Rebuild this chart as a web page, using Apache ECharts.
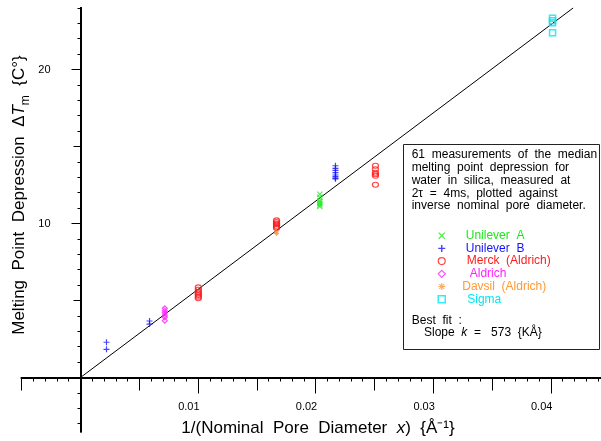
<!DOCTYPE html>
<html>
<head>
<meta charset="utf-8">
<script src="https://cdn.jsdelivr.net/npm/echarts@6/dist/echarts.min.js"></script>
<style>
  html, body { margin: 0; padding: 0; background: #fff; }
  #chart { width: 601px; height: 441px; }
</style>
</head>
<body>
<div id="chart"></div>
<script>
// 熔点降低 vs 孔径倒数

// 数据 [1/x (Å^-1), ΔTm (C°)]
const unileverA = [[0.02035, 11.9], [0.02035, 11.7], [0.02035, 11.5], [0.02035, 11.4],
    [0.02035, 11.3], [0.02035, 11.2], [0.02035, 11.1]];
const unileverB = [[0.00221, 2.29], [0.00221, 1.83], [0.00587, 3.67], [0.00587, 3.47],
    [0.02168, 13.75], [0.02168, 13.58], [0.02168, 13.45], [0.02168, 13.3],
    [0.02168, 13.15], [0.02168, 13.05], [0.02168, 12.95], [0.02168, 12.9]];
const merck = [[0.01002, 5.85], [0.01002, 5.7], [0.01002, 5.55], [0.01002, 5.45],
    [0.01002, 5.35], [0.01002, 5.25], [0.01002, 5.15],
    [0.01667, 10.2], [0.01667, 10.1], [0.01667, 10.0], [0.01667, 9.95], [0.01667, 9.85],
    [0.01667, 9.75], [0.01667, 9.7],
    [0.02508, 13.75], [0.02508, 13.52], [0.02508, 13.3], [0.02508, 13.2],
    [0.02508, 13.1], [0.02508, 12.52]];
const aldrich = [[0.00717, 4.49], [0.00717, 4.34], [0.00717, 4.2], [0.00717, 4.05],
    [0.00717, 3.91], [0.00717, 3.69]];
const davsil = [[0.01667, 9.45], [0.01667, 9.35]];
const sigma = [[0.04014, 23.32], [0.04014, 23.17], [0.04014, 23.04], [0.04014, 22.39]];

// 最佳拟合 斜率 k = 573 KÅ
const fitLine = [[0, 0], [0.0419, 24.0]];

// 坐标轴刻度
const xLabelValues = [0.01, 0.02, 0.03, 0.04];
const xLabelTexts = ['0.01', '0.02', '0.03', '0.04'];
const xMajorTicks = [0.01, 0.02, 0.03, 0.04];
const xMidTicks = [-0.005, 0.005, 0.015, 0.025, 0.035];
const yLabelValues = [10, 20];
const yLabelTexts = ['10', '20'];
const yMajorTicks = [10, 20];
const yMidTicks = [5, 15];

const xMinorTicks = [];
for (let i = -5; i <= 45; i++) xMinorTicks.push(+(i * 0.001).toFixed(3));
const yMinorTicks = [];
for (let i = -3; i <= 24; i++) yMinorTicks.push(i);

const FONT = 'Liberation Sans';
const X_MIN = -0.005, X_MAX = 0.045, Y_MIN = -3.5, Y_MAX = 24;

function xTickAxis(ticks, len) {
    return {
        type: 'value', min: X_MIN, max: X_MAX, position: 'bottom',
        axisLine: { show: true, onZero: true, onZeroAxisIndex: 0, lineStyle: { color: '#000', width: 2 } },
        axisTick: { show: true, customValues: ticks, length: len, lineStyle: { color: '#000', width: 1 } },
        axisLabel: { show: false },
        splitLine: { show: false }
    };
}

function yTickAxis(ticks, len) {
    return {
        type: 'value', min: Y_MIN, max: Y_MAX, position: 'left',
        axisLine: { show: true, onZero: true, onZeroAxisIndex: 0, lineStyle: { color: '#000', width: 2 } },
        axisTick: { show: true, customValues: ticks, length: len, lineStyle: { color: '#000', width: 1 } },
        axisLabel: { show: false },
        splitLine: { show: false }
    };
}

const plusPath = 'path://M4,0H6V4H10V6H6V10H4V6H0V4H4Z';
const crossPath = 'path://M0,1.2L1.2,0L5,3.8L8.8,0L10,1.2L6.2,5L10,8.8L8.8,10L5,6.2L1.2,10L0,8.8L3.8,5Z';
const starPath = 'path://M4.2,0H5.8V10H4.2Z M0,4.2H10V5.8H0Z M1,2.1L2.1,1L9,7.9L7.9,9Z M7.9,1L9,2.1L2.1,9L1,7.9Z';

const cGreen = '#1ee61e', cBlue = '#1414ff', cRed = '#ff1a1a',
    cMagenta = '#ff22ff', cOrange = '#ff9933', cCyan = '#00e6f0';

function hollow(color, w) {
    return { color: 'rgba(255,255,255,0)', borderColor: color, borderWidth: w || 1.2 };
}

function txt(x, y, text, extra) {
    return { type: 'text', x: x, y: y, style: Object.assign({ text: text, font: '12px "Liberation Sans"', fill: '#000', verticalAlign: 'middle' }, extra || {}) };
}

const myChart = echarts.init(document.getElementById('chart'));

const staticGraphics = [
    // 坐标轴标题
    {
        type: 'text', x: 19, y: 195, rotation: Math.PI / 2,
        style: {
            text: 'Melting  Point  Depression  Δ{i|T}{s|m}  {C°}',
            font: '17px "Liberation Sans"', fill: '#000', align: 'center', verticalAlign: 'middle',
            rich: {
                i: { fontFamily: FONT, fontSize: 17, fontStyle: 'italic', fill: '#000' },
                s: { fontFamily: FONT, fontSize: 12, fill: '#000', verticalAlign: 'bottom', lineHeight: 26 }
            }
        }
    },
    {
        type: 'text', x: 318, y: 428,
        style: {
            text: '1/(Nominal  Pore  Diameter  {i|x})  {Å⁻¹}',
            font: '17px "Liberation Sans"', fill: '#000', align: 'center', verticalAlign: 'middle',
            rich: { i: { fontFamily: FONT, fontSize: 17, fontStyle: 'italic', fill: '#000' } }
        }
    },
    // 说明框
    {
        type: 'rect', shape: { x: 403.5, y: 144.5, width: 196, height: 205 },
        style: { fill: '#fff', stroke: '#222', lineWidth: 1 }, z: -1
    },
    txt(411.7, 155, '61  measurements  of  the  median'),
    txt(411.7, 167.7, 'melting  point  depression  for'),
    txt(411.7, 180.5, 'water  in  silica,  measured  at'),
    txt(411.7, 193.2, '2τ  =  4ms,  plotted  against'),
    txt(411.7, 205.8, 'inverse  nominal  pore  diameter.'),
    txt(411.7, 320.3, 'Best  fit  :'),
    txt(424, 332.7, 'Slope  {i|k}  =   573  {KÅ}', {
        rich: { i: { fontFamily: FONT, fontSize: 12, fontStyle: 'italic', fill: '#000' } }
    })
];

const option = {
    animation: false,
    backgroundColor: '#fff',
    grid: { left: 21.7, top: 7.9, width: 588, height: 423.5, outerBoundsMode: 'none', containLabel: false },
    xAxis: [
        xTickAxis(xMajorTicks, 16),
        xTickAxis(xMidTicks, 13),
        xTickAxis(xMinorTicks, 4)
    ],
    yAxis: [
        yTickAxis(yMajorTicks, 9),
        yTickAxis(yMidTicks, 7),
        yTickAxis(yMinorTicks, 3)
    ],
    legend: {
        orient: 'vertical', left: 432.5, top: 224.7,
        itemWidth: 7, itemHeight: 7, itemGap: 0.7,
        selectedMode: false,
        textStyle: { fontFamily: FONT, fontSize: 12 },
        data: [
            { name: 'Unilever  A', icon: crossPath, itemStyle: { color: cGreen, borderWidth: 0 },
              textStyle: { color: cGreen, padding: [0, 0, 0, 15.5] } },
            { name: 'Unilever  B', icon: plusPath, itemStyle: { color: cBlue, borderWidth: 0 },
              textStyle: { color: cBlue, padding: [0, 0, 0, 15.5] } },
            { name: 'Merck  (Aldrich)', icon: 'circle', itemStyle: hollow(cRed),
              textStyle: { color: cRed, padding: [0, 0, 0, 16.5] } },
            { name: 'Aldrich', icon: 'diamond', itemStyle: hollow(cMagenta),
              textStyle: { color: cMagenta, padding: [0, 0, 0, 19.5] } },
            { name: 'Davsil  (Aldrich)', icon: starPath, itemStyle: { color: cOrange, borderWidth: 0 },
              textStyle: { color: cOrange, padding: [0, 0, 0, 12] } },
            { name: 'Sigma', icon: 'rect', itemStyle: hollow(cCyan, 1.5),
              textStyle: { color: cCyan, padding: [0, 0, 0, 17] } }
        ]
    },
    series: [
        {
            name: 'fit', type: 'line', data: fitLine, showSymbol: false, clip: true,
            lineStyle: { color: '#000', width: 1 }, z: 1, silent: true
        },
        { name: 'Unilever  A', type: 'scatter', data: unileverA, symbol: crossPath, symbolSize: 6,
          itemStyle: { color: cGreen } },
        { name: 'Unilever  B', type: 'scatter', data: unileverB, symbol: plusPath, symbolSize: 6,
          itemStyle: { color: cBlue } },
        { name: 'Merck  (Aldrich)', type: 'scatter', data: merck, symbol: 'circle', symbolSize: [6, 5],
          itemStyle: hollow(cRed) },
        { name: 'Aldrich', type: 'scatter', data: aldrich, symbol: 'diamond', symbolSize: 5,
          itemStyle: hollow(cMagenta) },
        { name: 'Davsil  (Aldrich)', type: 'scatter', data: davsil, symbol: starPath, symbolSize: 5,
          itemStyle: { color: cOrange } },
        { name: 'Sigma', type: 'scatter', data: sigma, symbol: 'rect', symbolSize: 6,
          itemStyle: hollow(cCyan, 1.5) }
    ],
    graphic: staticGraphics
};

option && myChart.setOption(option, true);

// 刻度标签：用坐标轴换算位置
const tickLabels = [];
xLabelValues.forEach((v, i) => {
    const p = myChart.convertToPixel({ xAxisIndex: 0, yAxisIndex: 0 }, [v, 0]);
    tickLabels.push(txt(p[0] + 1.5, p[1] + 29, xLabelTexts[i], { font: '11px "Liberation Sans"', align: 'right' }));
});
yLabelValues.forEach((v, i) => {
    const p = myChart.convertToPixel({ xAxisIndex: 0, yAxisIndex: 0 }, [0, v]);
    tickLabels.push(txt(p[0] - 30, p[1], yLabelTexts[i], { font: '11px "Liberation Sans"', align: 'right' }));
});
myChart.setOption({ graphic: staticGraphics.concat(tickLabels) });
</script>
</body>
</html>
